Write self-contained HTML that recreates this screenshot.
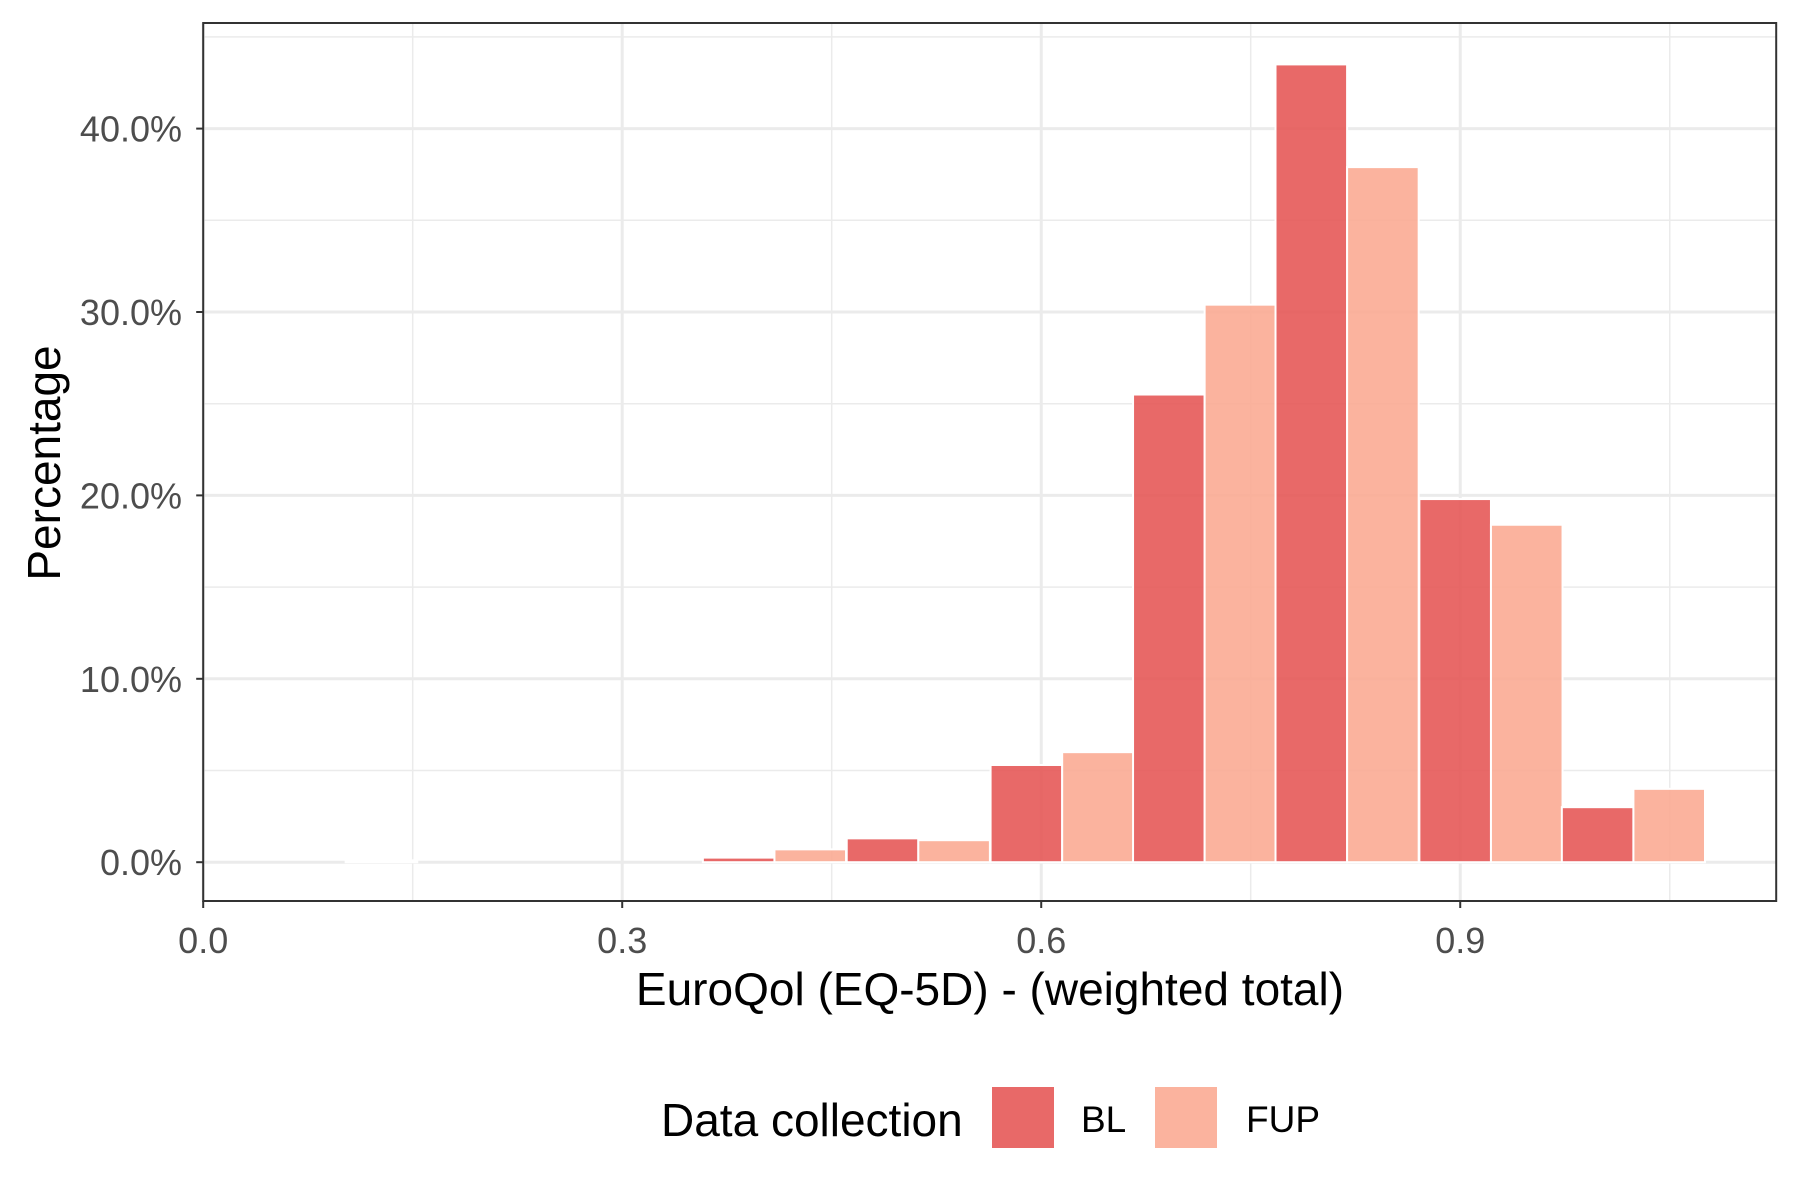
<!DOCTYPE html>
<html><head><meta charset="utf-8"><style>
html,body{margin:0;padding:0;background:#fff;}
svg{display:block;font-family:"Liberation Sans",Arial,sans-serif;}
</style></head><body>
<svg id="chart" width="1800" height="1200" viewBox="0 0 1800 1200" xmlns="http://www.w3.org/2000/svg">
<g id="grid"></g>
<g id="bars"></g>
<rect x="203.2" y="23" width="1573" height="878" fill="none" stroke="#333" stroke-width="2"/>
<g id="axes"></g>
<text x="990" y="1005" font-size="46" text-anchor="middle" fill="#000">EuroQol (EQ-5D) - (weighted total)</text>
<text transform="translate(60,463) rotate(-90)" font-size="46" text-anchor="middle" fill="#000">Percentage</text>
<g>
<text x="661" y="1136" font-size="46" fill="#000">Data collection</text>
<rect x="992" y="1087" width="62" height="61" fill="rgb(229,89,88)" fill-opacity="0.9"/>
<text x="1081" y="1132" font-size="37" fill="#000">BL</text>
<rect x="1155" y="1087" width="62" height="61" fill="rgb(251,171,148)" fill-opacity="0.9"/>
<text x="1246" y="1132" font-size="37" fill="#000">FUP</text>
</g>
</svg>
<script>
const binCenters = [0.102, 0.409, 0.512, 0.615, 0.717, 0.819, 0.922, 1.024];
const blValues = [0.0, 0.25, 1.3, 5.3, 25.5, 43.5, 19.8, 3.0];
const fupValues = [0.1, 0.7, 1.2, 6.0, 30.4, 37.9, 18.4, 4.0];
const xTicks = [0.0, 0.3, 0.6, 0.9];
const xTickLabels = ["0.0", "0.3", "0.6", "0.9"];
const yTicks = [0, 10, 20, 30, 40];
const yTickLabels = ["0.0%", "10.0%", "20.0%", "30.0%", "40.0%"];
const binWidth = 0.1025;

const X0 = 203.2, XS = 1396.7, Y0 = 862.2, YS = 18.34;
const L = 203.2, R = 1776.2, T = 23, B = 901;
const x = v => X0 + v * XS;
const y = v => Y0 - v * YS;
const NS = "http://www.w3.org/2000/svg";
function mk(tag, attrs, parent) {
  const e = document.createElementNS(NS, tag);
  for (const k in attrs) e.setAttribute(k, attrs[k]);
  parent.appendChild(e);
  return e;
}
const grid = document.getElementById('grid');
const bars = document.getElementById('bars');
const axes = document.getElementById('axes');

for (let i = 0; i < xTicks.length; i++) {
  const minor = xTicks[i] + 0.15;
  const gm = mk('line', {x1: x(minor), x2: x(minor), y1: T, y2: B, stroke: '#ebebeb', 'stroke-width': 1.5}, grid);
  
  
}
for (let i = 0; i < yTicks.length; i++) {
  const minor = yTicks[i] + 5;
  const gm = mk('line', {x1: L, x2: R, y1: y(minor), y2: y(minor), stroke: '#ebebeb', 'stroke-width': 1.5}, grid);
  
  
}
for (let i = 0; i < xTicks.length; i++) {
  const g = mk('line', {x1: x(xTicks[i]), x2: x(xTicks[i]), y1: T, y2: B, stroke: '#ebebeb', 'stroke-width': 3}, grid);
  
  
  const t = mk('line', {x1: x(xTicks[i]), x2: x(xTicks[i]), y1: B, y2: B + 7, stroke: '#333', 'stroke-width': 2}, axes);
  
  
  const lb = mk('text', {x: x(xTicks[i]), y: 953, 'font-size': 36, 'text-anchor': 'middle', fill: '#4d4d4d'}, axes);
  lb.textContent = xTickLabels[i];
  
  
}
for (let i = 0; i < yTicks.length; i++) {
  const g = mk('line', {x1: L, x2: R, y1: y(yTicks[i]), y2: y(yTicks[i]), stroke: '#ebebeb', 'stroke-width': 3}, grid);
  
  
  const t = mk('line', {x1: L - 7, x2: L, y1: y(yTicks[i]), y2: y(yTicks[i]), stroke: '#333', 'stroke-width': 2}, axes);
  
  
  const lb = mk('text', {x: 182, y: y(yTicks[i]) + 13, 'font-size': 36, 'text-anchor': 'end', fill: '#4d4d4d'}, axes);
  lb.textContent = yTickLabels[i];
  
  
}
for (let i = 0; i < binCenters.length; i++) {
  const c = binCenters[i], h = binWidth / 2;
  const b1 = mk('rect', {x: x(c - h), y: y(blValues[i]), width: x(c) - x(c - h), height: Math.max(0, Y0 - y(blValues[i])), fill: 'rgb(229,89,88)', 'fill-opacity': 0.9, stroke: '#fff', 'stroke-width': 2}, bars);
  
  
  const b2 = mk('rect', {x: x(c), y: y(fupValues[i]), width: x(c + h) - x(c), height: Math.max(0, Y0 - y(fupValues[i])), fill: 'rgb(251,171,148)', 'fill-opacity': 0.9, stroke: '#fff', 'stroke-width': 2}, bars);
  
  
}
</script>
</body></html>
